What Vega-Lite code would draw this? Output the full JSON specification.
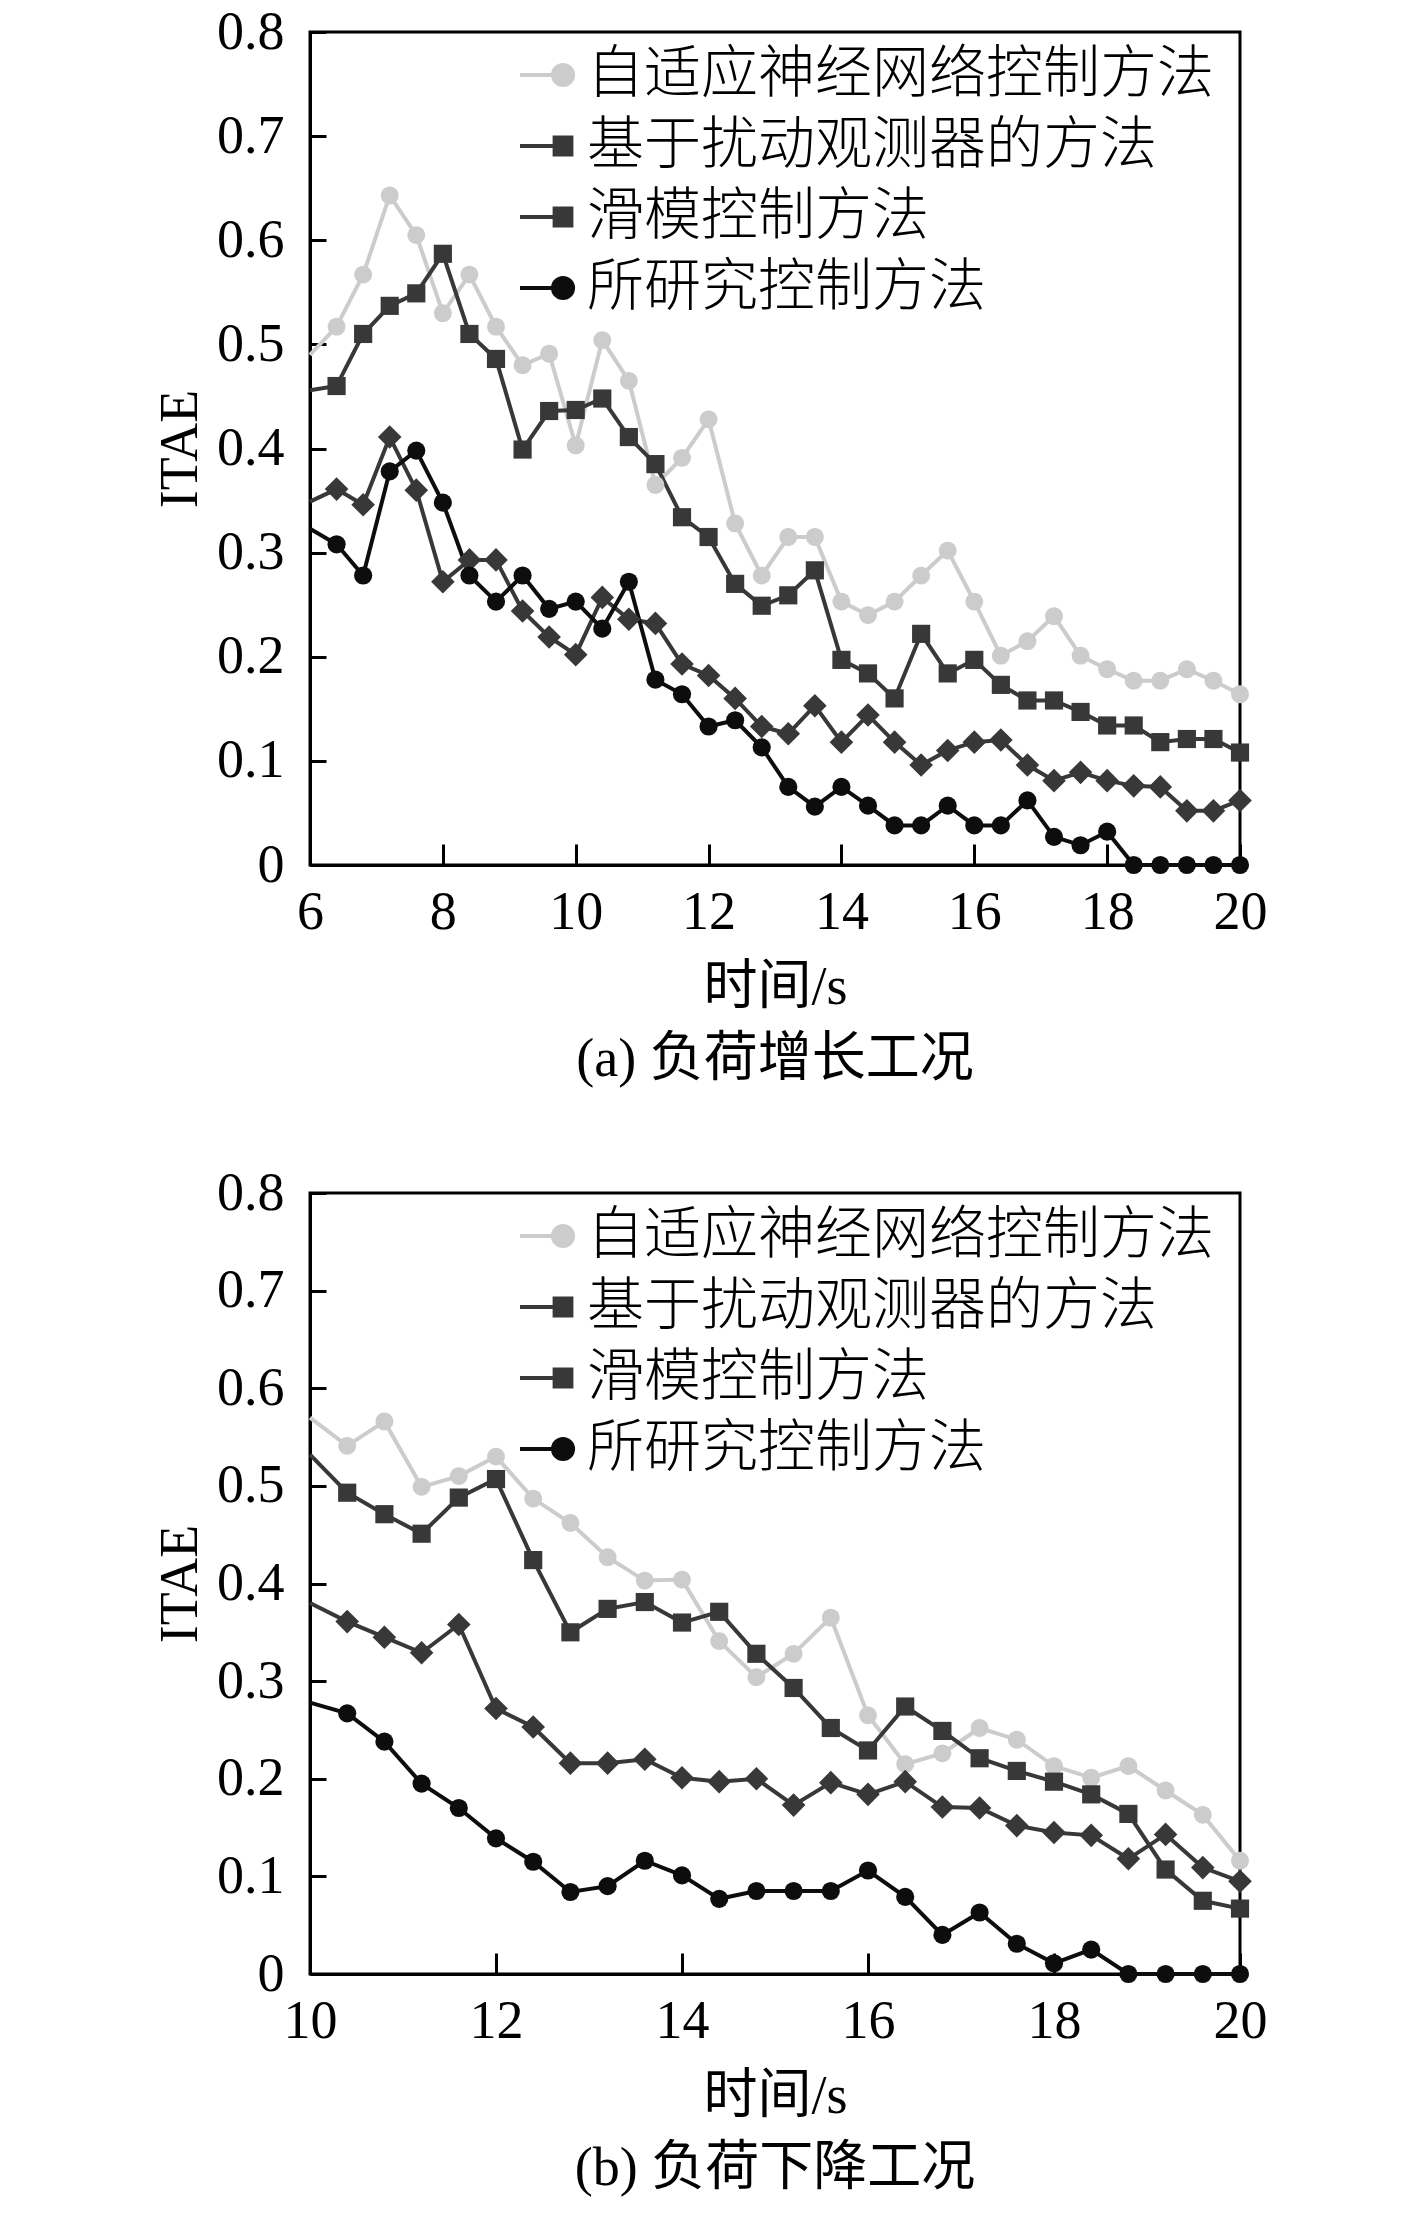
{
  "$schema": "https://vega.github.io/schema/vega-lite/v6.json",
  "background": "white",
  "padding": {"left": 152, "top": 3, "right": 0, "bottom": 0},
  "datasets": {
    "a": [
      {"t": 6.0, "v": 0.49, "s": "自适应神经网络控制方法"},
      {"t": 6.4, "v": 0.517, "s": "自适应神经网络控制方法"},
      {"t": 6.8, "v": 0.567, "s": "自适应神经网络控制方法"},
      {"t": 7.2, "v": 0.643, "s": "自适应神经网络控制方法"},
      {"t": 7.6, "v": 0.605, "s": "自适应神经网络控制方法"},
      {"t": 8.0, "v": 0.53, "s": "自适应神经网络控制方法"},
      {"t": 8.4, "v": 0.567, "s": "自适应神经网络控制方法"},
      {"t": 8.8, "v": 0.517, "s": "自适应神经网络控制方法"},
      {"t": 9.2, "v": 0.48, "s": "自适应神经网络控制方法"},
      {"t": 9.6, "v": 0.491, "s": "自适应神经网络控制方法"},
      {"t": 10.0, "v": 0.403, "s": "自适应神经网络控制方法"},
      {"t": 10.4, "v": 0.504, "s": "自适应神经网络控制方法"},
      {"t": 10.8, "v": 0.465, "s": "自适应神经网络控制方法"},
      {"t": 11.2, "v": 0.365, "s": "自适应神经网络控制方法"},
      {"t": 11.6, "v": 0.391, "s": "自适应神经网络控制方法"},
      {"t": 12.0, "v": 0.428, "s": "自适应神经网络控制方法"},
      {"t": 12.4, "v": 0.328, "s": "自适应神经网络控制方法"},
      {"t": 12.8, "v": 0.278, "s": "自适应神经网络控制方法"},
      {"t": 13.2, "v": 0.315, "s": "自适应神经网络控制方法"},
      {"t": 13.6, "v": 0.315, "s": "自适应神经网络控制方法"},
      {"t": 14.0, "v": 0.253, "s": "自适应神经网络控制方法"},
      {"t": 14.4, "v": 0.24, "s": "自适应神经网络控制方法"},
      {"t": 14.8, "v": 0.253, "s": "自适应神经网络控制方法"},
      {"t": 15.2, "v": 0.278, "s": "自适应神经网络控制方法"},
      {"t": 15.6, "v": 0.302, "s": "自适应神经网络控制方法"},
      {"t": 16.0, "v": 0.253, "s": "自适应神经网络控制方法"},
      {"t": 16.4, "v": 0.201, "s": "自适应神经网络控制方法"},
      {"t": 16.8, "v": 0.215, "s": "自适应神经网络控制方法"},
      {"t": 17.2, "v": 0.239, "s": "自适应神经网络控制方法"},
      {"t": 17.6, "v": 0.201, "s": "自适应神经网络控制方法"},
      {"t": 18.0, "v": 0.188, "s": "自适应神经网络控制方法"},
      {"t": 18.4, "v": 0.177, "s": "自适应神经网络控制方法"},
      {"t": 18.8, "v": 0.177, "s": "自适应神经网络控制方法"},
      {"t": 19.2, "v": 0.188, "s": "自适应神经网络控制方法"},
      {"t": 19.6, "v": 0.177, "s": "自适应神经网络控制方法"},
      {"t": 20.0, "v": 0.164, "s": "自适应神经网络控制方法"},
      {"t": 6.0, "v": 0.456, "s": "基于扰动观测器的方法"},
      {"t": 6.4, "v": 0.46, "s": "基于扰动观测器的方法"},
      {"t": 6.8, "v": 0.51, "s": "基于扰动观测器的方法"},
      {"t": 7.2, "v": 0.537, "s": "基于扰动观测器的方法"},
      {"t": 7.6, "v": 0.549, "s": "基于扰动观测器的方法"},
      {"t": 8.0, "v": 0.587, "s": "基于扰动观测器的方法"},
      {"t": 8.4, "v": 0.51, "s": "基于扰动观测器的方法"},
      {"t": 8.8, "v": 0.486, "s": "基于扰动观测器的方法"},
      {"t": 9.2, "v": 0.399, "s": "基于扰动观测器的方法"},
      {"t": 9.6, "v": 0.436, "s": "基于扰动观测器的方法"},
      {"t": 10.0, "v": 0.437, "s": "基于扰动观测器的方法"},
      {"t": 10.4, "v": 0.448, "s": "基于扰动观测器的方法"},
      {"t": 10.8, "v": 0.411, "s": "基于扰动观测器的方法"},
      {"t": 11.2, "v": 0.385, "s": "基于扰动观测器的方法"},
      {"t": 11.6, "v": 0.334, "s": "基于扰动观测器的方法"},
      {"t": 12.0, "v": 0.315, "s": "基于扰动观测器的方法"},
      {"t": 12.4, "v": 0.27, "s": "基于扰动观测器的方法"},
      {"t": 12.8, "v": 0.249, "s": "基于扰动观测器的方法"},
      {"t": 13.2, "v": 0.259, "s": "基于扰动观测器的方法"},
      {"t": 13.6, "v": 0.283, "s": "基于扰动观测器的方法"},
      {"t": 14.0, "v": 0.197, "s": "基于扰动观测器的方法"},
      {"t": 14.4, "v": 0.184, "s": "基于扰动观测器的方法"},
      {"t": 14.8, "v": 0.16, "s": "基于扰动观测器的方法"},
      {"t": 15.2, "v": 0.222, "s": "基于扰动观测器的方法"},
      {"t": 15.6, "v": 0.184, "s": "基于扰动观测器的方法"},
      {"t": 16.0, "v": 0.197, "s": "基于扰动观测器的方法"},
      {"t": 16.4, "v": 0.173, "s": "基于扰动观测器的方法"},
      {"t": 16.8, "v": 0.158, "s": "基于扰动观测器的方法"},
      {"t": 17.2, "v": 0.158, "s": "基于扰动观测器的方法"},
      {"t": 17.6, "v": 0.147, "s": "基于扰动观测器的方法"},
      {"t": 18.0, "v": 0.134, "s": "基于扰动观测器的方法"},
      {"t": 18.4, "v": 0.134, "s": "基于扰动观测器的方法"},
      {"t": 18.8, "v": 0.118, "s": "基于扰动观测器的方法"},
      {"t": 19.2, "v": 0.121, "s": "基于扰动观测器的方法"},
      {"t": 19.6, "v": 0.121, "s": "基于扰动观测器的方法"},
      {"t": 20.0, "v": 0.108, "s": "基于扰动观测器的方法"},
      {"t": 6.0, "v": 0.349, "s": "滑模控制方法"},
      {"t": 6.4, "v": 0.361, "s": "滑模控制方法"},
      {"t": 6.8, "v": 0.346, "s": "滑模控制方法"},
      {"t": 7.2, "v": 0.411, "s": "滑模控制方法"},
      {"t": 7.6, "v": 0.36, "s": "滑模控制方法"},
      {"t": 8.0, "v": 0.272, "s": "滑模控制方法"},
      {"t": 8.4, "v": 0.293, "s": "滑模控制方法"},
      {"t": 8.8, "v": 0.293, "s": "滑模控制方法"},
      {"t": 9.2, "v": 0.244, "s": "滑模控制方法"},
      {"t": 9.6, "v": 0.219, "s": "滑模控制方法"},
      {"t": 10.0, "v": 0.202, "s": "滑模控制方法"},
      {"t": 10.4, "v": 0.257, "s": "滑模控制方法"},
      {"t": 10.8, "v": 0.236, "s": "滑模控制方法"},
      {"t": 11.2, "v": 0.232, "s": "滑模控制方法"},
      {"t": 11.6, "v": 0.193, "s": "滑模控制方法"},
      {"t": 12.0, "v": 0.182, "s": "滑模控制方法"},
      {"t": 12.4, "v": 0.16, "s": "滑模控制方法"},
      {"t": 12.8, "v": 0.133, "s": "滑模控制方法"},
      {"t": 13.2, "v": 0.126, "s": "滑模控制方法"},
      {"t": 13.6, "v": 0.153, "s": "滑模控制方法"},
      {"t": 14.0, "v": 0.118, "s": "滑模控制方法"},
      {"t": 14.4, "v": 0.144, "s": "滑模控制方法"},
      {"t": 14.8, "v": 0.118, "s": "滑模控制方法"},
      {"t": 15.2, "v": 0.096, "s": "滑模控制方法"},
      {"t": 15.6, "v": 0.11, "s": "滑模控制方法"},
      {"t": 16.0, "v": 0.118, "s": "滑模控制方法"},
      {"t": 16.4, "v": 0.12, "s": "滑模控制方法"},
      {"t": 16.8, "v": 0.096, "s": "滑模控制方法"},
      {"t": 17.2, "v": 0.081, "s": "滑模控制方法"},
      {"t": 17.6, "v": 0.089, "s": "滑模控制方法"},
      {"t": 18.0, "v": 0.081, "s": "滑模控制方法"},
      {"t": 18.4, "v": 0.076, "s": "滑模控制方法"},
      {"t": 18.8, "v": 0.075, "s": "滑模控制方法"},
      {"t": 19.2, "v": 0.052, "s": "滑模控制方法"},
      {"t": 19.6, "v": 0.052, "s": "滑模控制方法"},
      {"t": 20.0, "v": 0.062, "s": "滑模控制方法"},
      {"t": 6.0, "v": 0.323, "s": "所研究控制方法"},
      {"t": 6.4, "v": 0.308, "s": "所研究控制方法"},
      {"t": 6.8, "v": 0.278, "s": "所研究控制方法"},
      {"t": 7.2, "v": 0.378, "s": "所研究控制方法"},
      {"t": 7.6, "v": 0.398, "s": "所研究控制方法"},
      {"t": 8.0, "v": 0.348, "s": "所研究控制方法"},
      {"t": 8.4, "v": 0.278, "s": "所研究控制方法"},
      {"t": 8.8, "v": 0.253, "s": "所研究控制方法"},
      {"t": 9.2, "v": 0.278, "s": "所研究控制方法"},
      {"t": 9.6, "v": 0.246, "s": "所研究控制方法"},
      {"t": 10.0, "v": 0.253, "s": "所研究控制方法"},
      {"t": 10.4, "v": 0.227, "s": "所研究控制方法"},
      {"t": 10.8, "v": 0.272, "s": "所研究控制方法"},
      {"t": 11.2, "v": 0.178, "s": "所研究控制方法"},
      {"t": 11.6, "v": 0.164, "s": "所研究控制方法"},
      {"t": 12.0, "v": 0.133, "s": "所研究控制方法"},
      {"t": 12.4, "v": 0.139, "s": "所研究控制方法"},
      {"t": 12.8, "v": 0.113, "s": "所研究控制方法"},
      {"t": 13.2, "v": 0.075, "s": "所研究控制方法"},
      {"t": 13.6, "v": 0.056, "s": "所研究控制方法"},
      {"t": 14.0, "v": 0.075, "s": "所研究控制方法"},
      {"t": 14.4, "v": 0.057, "s": "所研究控制方法"},
      {"t": 14.8, "v": 0.038, "s": "所研究控制方法"},
      {"t": 15.2, "v": 0.038, "s": "所研究控制方法"},
      {"t": 15.6, "v": 0.057, "s": "所研究控制方法"},
      {"t": 16.0, "v": 0.038, "s": "所研究控制方法"},
      {"t": 16.4, "v": 0.038, "s": "所研究控制方法"},
      {"t": 16.8, "v": 0.062, "s": "所研究控制方法"},
      {"t": 17.2, "v": 0.027, "s": "所研究控制方法"},
      {"t": 17.6, "v": 0.019, "s": "所研究控制方法"},
      {"t": 18.0, "v": 0.032, "s": "所研究控制方法"},
      {"t": 18.4, "v": 0, "s": "所研究控制方法"},
      {"t": 18.8, "v": 0, "s": "所研究控制方法"},
      {"t": 19.2, "v": 0, "s": "所研究控制方法"},
      {"t": 19.6, "v": 0, "s": "所研究控制方法"},
      {"t": 20.0, "v": 0, "s": "所研究控制方法"}
    ],
    "b": [
      {"t": 10.0, "v": 0.57, "s": "自适应神经网络控制方法"},
      {"t": 10.4, "v": 0.541, "s": "自适应神经网络控制方法"},
      {"t": 10.8, "v": 0.566, "s": "自适应神经网络控制方法"},
      {"t": 11.2, "v": 0.499, "s": "自适应神经网络控制方法"},
      {"t": 11.6, "v": 0.51, "s": "自适应神经网络控制方法"},
      {"t": 12.0, "v": 0.53, "s": "自适应神经网络控制方法"},
      {"t": 12.4, "v": 0.487, "s": "自适应神经网络控制方法"},
      {"t": 12.8, "v": 0.462, "s": "自适应神经网络控制方法"},
      {"t": 13.2, "v": 0.427, "s": "自适应神经网络控制方法"},
      {"t": 13.6, "v": 0.403, "s": "自适应神经网络控制方法"},
      {"t": 14.0, "v": 0.404, "s": "自适应神经网络控制方法"},
      {"t": 14.4, "v": 0.341, "s": "自适应神经网络控制方法"},
      {"t": 14.8, "v": 0.304, "s": "自适应神经网络控制方法"},
      {"t": 15.2, "v": 0.328, "s": "自适应神经网络控制方法"},
      {"t": 15.6, "v": 0.365, "s": "自适应神经网络控制方法"},
      {"t": 16.0, "v": 0.265, "s": "自适应神经网络控制方法"},
      {"t": 16.4, "v": 0.215, "s": "自适应神经网络控制方法"},
      {"t": 16.8, "v": 0.226, "s": "自适应神经网络控制方法"},
      {"t": 17.2, "v": 0.252, "s": "自适应神经网络控制方法"},
      {"t": 17.6, "v": 0.24, "s": "自适应神经网络控制方法"},
      {"t": 18.0, "v": 0.213, "s": "自适应神经网络控制方法"},
      {"t": 18.4, "v": 0.201, "s": "自适应神经网络控制方法"},
      {"t": 18.8, "v": 0.213, "s": "自适应神经网络控制方法"},
      {"t": 19.2, "v": 0.188, "s": "自适应神经网络控制方法"},
      {"t": 19.6, "v": 0.163, "s": "自适应神经网络控制方法"},
      {"t": 20.0, "v": 0.116, "s": "自适应神经网络控制方法"},
      {"t": 10.0, "v": 0.532, "s": "基于扰动观测器的方法"},
      {"t": 10.4, "v": 0.493, "s": "基于扰动观测器的方法"},
      {"t": 10.8, "v": 0.471, "s": "基于扰动观测器的方法"},
      {"t": 11.2, "v": 0.451, "s": "基于扰动观测器的方法"},
      {"t": 11.6, "v": 0.488, "s": "基于扰动观测器的方法"},
      {"t": 12.0, "v": 0.507, "s": "基于扰动观测器的方法"},
      {"t": 12.4, "v": 0.424, "s": "基于扰动观测器的方法"},
      {"t": 12.8, "v": 0.35, "s": "基于扰动观测器的方法"},
      {"t": 13.2, "v": 0.374, "s": "基于扰动观测器的方法"},
      {"t": 13.6, "v": 0.381, "s": "基于扰动观测器的方法"},
      {"t": 14.0, "v": 0.36, "s": "基于扰动观测器的方法"},
      {"t": 14.4, "v": 0.371, "s": "基于扰动观测器的方法"},
      {"t": 14.8, "v": 0.328, "s": "基于扰动观测器的方法"},
      {"t": 15.2, "v": 0.293, "s": "基于扰动观测器的方法"},
      {"t": 15.6, "v": 0.252, "s": "基于扰动观测器的方法"},
      {"t": 16.0, "v": 0.229, "s": "基于扰动观测器的方法"},
      {"t": 16.4, "v": 0.274, "s": "基于扰动观测器的方法"},
      {"t": 16.8, "v": 0.249, "s": "基于扰动观测器的方法"},
      {"t": 17.2, "v": 0.221, "s": "基于扰动观测器的方法"},
      {"t": 17.6, "v": 0.208, "s": "基于扰动观测器的方法"},
      {"t": 18.0, "v": 0.197, "s": "基于扰动观测器的方法"},
      {"t": 18.4, "v": 0.184, "s": "基于扰动观测器的方法"},
      {"t": 18.8, "v": 0.164, "s": "基于扰动观测器的方法"},
      {"t": 19.2, "v": 0.107, "s": "基于扰动观测器的方法"},
      {"t": 19.6, "v": 0.075, "s": "基于扰动观测器的方法"},
      {"t": 20.0, "v": 0.067, "s": "基于扰动观测器的方法"},
      {"t": 10.0, "v": 0.38, "s": "滑模控制方法"},
      {"t": 10.4, "v": 0.361, "s": "滑模控制方法"},
      {"t": 10.8, "v": 0.345, "s": "滑模控制方法"},
      {"t": 11.2, "v": 0.329, "s": "滑模控制方法"},
      {"t": 11.6, "v": 0.358, "s": "滑模控制方法"},
      {"t": 12.0, "v": 0.272, "s": "滑模控制方法"},
      {"t": 12.4, "v": 0.253, "s": "滑模控制方法"},
      {"t": 12.8, "v": 0.216, "s": "滑模控制方法"},
      {"t": 13.2, "v": 0.216, "s": "滑模控制方法"},
      {"t": 13.6, "v": 0.22, "s": "滑模控制方法"},
      {"t": 14.0, "v": 0.201, "s": "滑模控制方法"},
      {"t": 14.4, "v": 0.197, "s": "滑模控制方法"},
      {"t": 14.8, "v": 0.2, "s": "滑模控制方法"},
      {"t": 15.2, "v": 0.173, "s": "滑模控制方法"},
      {"t": 15.6, "v": 0.196, "s": "滑模控制方法"},
      {"t": 16.0, "v": 0.184, "s": "滑模控制方法"},
      {"t": 16.4, "v": 0.197, "s": "滑模控制方法"},
      {"t": 16.8, "v": 0.171, "s": "滑模控制方法"},
      {"t": 17.2, "v": 0.17, "s": "滑模控制方法"},
      {"t": 17.6, "v": 0.152, "s": "滑模控制方法"},
      {"t": 18.0, "v": 0.145, "s": "滑模控制方法"},
      {"t": 18.4, "v": 0.142, "s": "滑模控制方法"},
      {"t": 18.8, "v": 0.118, "s": "滑模控制方法"},
      {"t": 19.2, "v": 0.143, "s": "滑模控制方法"},
      {"t": 19.6, "v": 0.109, "s": "滑模控制方法"},
      {"t": 20.0, "v": 0.095, "s": "滑模控制方法"},
      {"t": 10.0, "v": 0.278, "s": "所研究控制方法"},
      {"t": 10.4, "v": 0.267, "s": "所研究控制方法"},
      {"t": 10.8, "v": 0.238, "s": "所研究控制方法"},
      {"t": 11.2, "v": 0.195, "s": "所研究控制方法"},
      {"t": 11.6, "v": 0.17, "s": "所研究控制方法"},
      {"t": 12.0, "v": 0.139, "s": "所研究控制方法"},
      {"t": 12.4, "v": 0.115, "s": "所研究控制方法"},
      {"t": 12.8, "v": 0.084, "s": "所研究控制方法"},
      {"t": 13.2, "v": 0.09, "s": "所研究控制方法"},
      {"t": 13.6, "v": 0.116, "s": "所研究控制方法"},
      {"t": 14.0, "v": 0.101, "s": "所研究控制方法"},
      {"t": 14.4, "v": 0.077, "s": "所研究控制方法"},
      {"t": 14.8, "v": 0.085, "s": "所研究控制方法"},
      {"t": 15.2, "v": 0.085, "s": "所研究控制方法"},
      {"t": 15.6, "v": 0.085, "s": "所研究控制方法"},
      {"t": 16.0, "v": 0.106, "s": "所研究控制方法"},
      {"t": 16.4, "v": 0.079, "s": "所研究控制方法"},
      {"t": 16.8, "v": 0.04, "s": "所研究控制方法"},
      {"t": 17.2, "v": 0.063, "s": "所研究控制方法"},
      {"t": 17.6, "v": 0.031, "s": "所研究控制方法"},
      {"t": 18.0, "v": 0.011, "s": "所研究控制方法"},
      {"t": 18.4, "v": 0.025, "s": "所研究控制方法"},
      {"t": 18.8, "v": 0, "s": "所研究控制方法"},
      {"t": 19.2, "v": 0, "s": "所研究控制方法"},
      {"t": 19.6, "v": 0, "s": "所研究控制方法"},
      {"t": 20.0, "v": 0, "s": "所研究控制方法"}
    ]
  },
  "spacing": 75,
  "resolve": {
    "scale": {"x": "independent", "y": "independent", "color": "independent", "shape": "independent", "fill": "independent", "stroke": "independent"},
    "legend": {"shape": "independent", "fill": "independent", "stroke": "independent"}
  },
  "vconcat": [
    {
      "width": 930,
      "height": 833,
      "data": {"name": "a"},
      "title": {"text": "(a) 负荷增长工况", "orient": "bottom", "offset": 19},
      "encoding": {
        "x": {
          "field": "t", "type": "quantitative", "title": "时间/s",
          "scale": {"domain": [6, 20], "nice": false, "zero": false},
          "axis": {"values": [6, 8, 10, 12, 14, 16, 18, 20]}
        },
        "y": {
          "field": "v", "type": "quantitative", "title": "ITAE",
          "scale": {"domain": [0, 0.8], "nice": false},
          "axis": {"values": [0, 0.1, 0.2, 0.3, 0.4, 0.5, 0.6, 0.7, 0.8]}
        }
      },
      "resolve": {"scale": {"shape": "independent", "fill": "independent", "stroke": "independent"}},
      "layer": [
        {
          "mark": {"type": "line", "strokeWidth": 4},
          "encoding": {
            "color": {
              "field": "s", "type": "nominal", "legend": null,
              "scale": {
                "domain": ["自适应神经网络控制方法", "基于扰动观测器的方法", "滑模控制方法", "所研究控制方法"],
                "range": ["#cccccc", "#383838", "#383838", "#0d0d0d"]
              }
            }
          }
        },
        {
          "transform": [{"filter": "datum.t > 6"}],
          "mark": {"type": "point", "filled": true, "opacity": 1, "size": 330, "strokeWidth": 0},
          "encoding": {
            "color": {
              "field": "s", "type": "nominal", "legend": null,
              "scale": {
                "domain": ["自适应神经网络控制方法", "基于扰动观测器的方法", "滑模控制方法", "所研究控制方法"],
                "range": ["#cccccc", "#383838", "#383838", "#0d0d0d"]
              }
            },
            "shape": {
              "field": "s", "type": "nominal", "legend": null,
              "scale": {
                "domain": ["自适应神经网络控制方法", "基于扰动观测器的方法", "滑模控制方法", "所研究控制方法"],
                "range": ["M0.98,0A0.98,0.98,0,1,1,-0.98,0A0.98,0.98,0,1,1,0.98,0Z", "square", "M0,-1.3L1.3,0L0,1.3L-1.3,0Z", "circle"]
              }
            }
          }
        },
        {
          "transform": [{"filter": "datum.t < 0"}],
          "mark": {"type": "point"},
          "encoding": {
            "fill": {
              "field": "s", "type": "nominal",
              "scale": {
                "domain": ["自适应神经网络控制方法", "基于扰动观测器的方法", "滑模控制方法", "所研究控制方法"],
                "range": ["#cccccc", "#383838", "#383838", "#0d0d0d"]
              },
              "legend": {"orient": "none", "legendX": 208, "legendY": 13, "title": null}
            },
            "stroke": {
              "field": "s", "type": "nominal",
              "scale": {
                "domain": ["自适应神经网络控制方法", "基于扰动观测器的方法", "滑模控制方法", "所研究控制方法"],
                "range": ["#cccccc", "#383838", "#383838", "#0d0d0d"]
              },
              "legend": {"orient": "none", "legendX": 208, "legendY": 13, "title": null}
            },
            "shape": {
              "field": "s", "type": "nominal",
              "scale": {
                "domain": ["自适应神经网络控制方法", "基于扰动观测器的方法", "滑模控制方法", "所研究控制方法"],
                "range": [
                  "M-1,0H0.536M0.896,0A0.36,0.36,0,1,1,0.176,0A0.36,0.36,0,1,1,0.896,0Z",
                  "M-1,0H0.536M0.236,-0.3H0.836V0.3H0.236Z",
                  "M-1,0H0.536M0.236,-0.3H0.836V0.3H0.236Z",
                  "M-1,0H0.536M0.896,0A0.36,0.36,0,1,1,0.176,0A0.36,0.36,0,1,1,0.896,0Z"
                ]
              },
              "legend": {"orient": "none", "legendX": 208, "legendY": 13, "title": null}
            }
          }
        }
      ]
    },
    {
      "width": 930,
      "height": 781,
      "data": {"name": "b"},
      "title": {"text": "(b) 负荷下降工况", "orient": "bottom", "offset": 19},
      "encoding": {
        "x": {
          "field": "t", "type": "quantitative", "title": "时间/s",
          "scale": {"domain": [10, 20], "nice": false, "zero": false},
          "axis": {"values": [10, 12, 14, 16, 18, 20]}
        },
        "y": {
          "field": "v", "type": "quantitative", "title": "ITAE",
          "scale": {"domain": [0, 0.8], "nice": false},
          "axis": {"values": [0, 0.1, 0.2, 0.3, 0.4, 0.5, 0.6, 0.7, 0.8]}
        }
      },
      "resolve": {"scale": {"shape": "independent", "fill": "independent", "stroke": "independent"}},
      "layer": [
        {
          "mark": {"type": "line", "strokeWidth": 4},
          "encoding": {
            "color": {
              "field": "s", "type": "nominal", "legend": null,
              "scale": {
                "domain": ["自适应神经网络控制方法", "基于扰动观测器的方法", "滑模控制方法", "所研究控制方法"],
                "range": ["#cccccc", "#383838", "#383838", "#0d0d0d"]
              }
            }
          }
        },
        {
          "transform": [{"filter": "datum.t > 10"}],
          "mark": {"type": "point", "filled": true, "opacity": 1, "size": 330, "strokeWidth": 0},
          "encoding": {
            "color": {
              "field": "s", "type": "nominal", "legend": null,
              "scale": {
                "domain": ["自适应神经网络控制方法", "基于扰动观测器的方法", "滑模控制方法", "所研究控制方法"],
                "range": ["#cccccc", "#383838", "#383838", "#0d0d0d"]
              }
            },
            "shape": {
              "field": "s", "type": "nominal", "legend": null,
              "scale": {
                "domain": ["自适应神经网络控制方法", "基于扰动观测器的方法", "滑模控制方法", "所研究控制方法"],
                "range": ["M0.98,0A0.98,0.98,0,1,1,-0.98,0A0.98,0.98,0,1,1,0.98,0Z", "square", "M0,-1.3L1.3,0L0,1.3L-1.3,0Z", "circle"]
              }
            }
          }
        },
        {
          "transform": [{"filter": "datum.t < 0"}],
          "mark": {"type": "point"},
          "encoding": {
            "fill": {
              "field": "s", "type": "nominal",
              "scale": {
                "domain": ["自适应神经网络控制方法", "基于扰动观测器的方法", "滑模控制方法", "所研究控制方法"],
                "range": ["#cccccc", "#383838", "#383838", "#0d0d0d"]
              },
              "legend": {"orient": "none", "legendX": 208, "legendY": 13, "title": null}
            },
            "stroke": {
              "field": "s", "type": "nominal",
              "scale": {
                "domain": ["自适应神经网络控制方法", "基于扰动观测器的方法", "滑模控制方法", "所研究控制方法"],
                "range": ["#cccccc", "#383838", "#383838", "#0d0d0d"]
              },
              "legend": {"orient": "none", "legendX": 208, "legendY": 13, "title": null}
            },
            "shape": {
              "field": "s", "type": "nominal",
              "scale": {
                "domain": ["自适应神经网络控制方法", "基于扰动观测器的方法", "滑模控制方法", "所研究控制方法"],
                "range": [
                  "M-1,0H0.536M0.896,0A0.36,0.36,0,1,1,0.176,0A0.36,0.36,0,1,1,0.896,0Z",
                  "M-1,0H0.536M0.236,-0.3H0.836V0.3H0.236Z",
                  "M-1,0H0.536M0.236,-0.3H0.836V0.3H0.236Z",
                  "M-1,0H0.536M0.896,0A0.36,0.36,0,1,1,0.176,0A0.36,0.36,0,1,1,0.896,0Z"
                ]
              },
              "legend": {"orient": "none", "legendX": 208, "legendY": 13, "title": null}
            }
          }
        }
      ]
    }
  ],
  "config": {
    "view": {"stroke": "black", "strokeWidth": 3},
    "axis": {
      "grid": false,
      "domainColor": "black", "domainWidth": 3,
      "tickColor": "black", "tickWidth": 3,
      "labelFont": "Liberation Serif", "labelFontSize": 54, "labelColor": "black",
      "labelFlush": false, "labelOverlap": false,
      "titleFont": "Liberation Serif, Noto Sans CJK SC", "titleFontSize": 54,
      "titleFontWeight": "normal", "titleColor": "black"
    },
    "axisX": {"tickSize": -21, "labelPadding": 41, "titlePadding": 21},
    "axisY": {
      "tickSize": -16, "labelPadding": 42, "titlePadding": 9,
      "labelExpr": "datum.value === 0 ? '0' : format(datum.value, '.1f')"
    },
    "legend": {
      "labelFont": "Noto Sans CJK SC", "labelFontSize": 57, "labelFontWeight": 300,
      "labelColor": "black", "labelLimit": 1000, "labelOffset": 9,
      "symbolSize": 3136, "symbolStrokeWidth": 4, "symbolOpacity": 1,
      "symbolFillColor": "black", "symbolStrokeColor": "black",
      "rowPadding": 13, "padding": 0
    },
    "title": {
      "font": "Liberation Serif, Noto Sans CJK SC", "fontSize": 54,
      "fontWeight": "normal", "color": "black"
    }
  }
}
